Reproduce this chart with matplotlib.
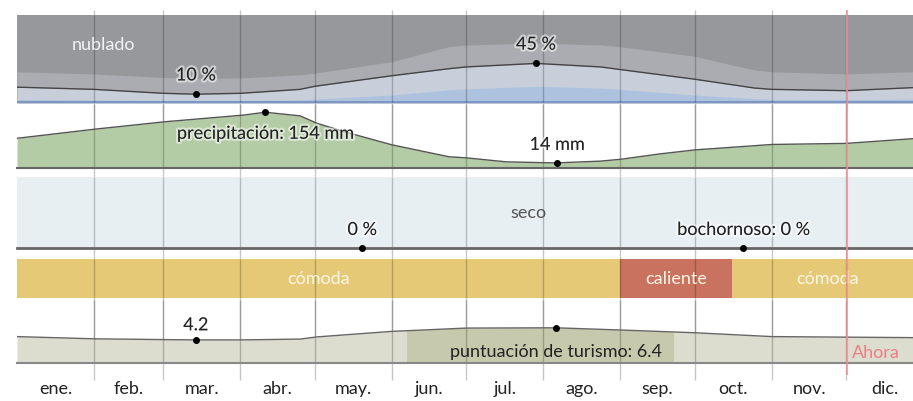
import numpy as np
import matplotlib
matplotlib.use('Agg')
import matplotlib.pyplot as plt
import matplotlib.patheffects as pe
from matplotlib.patches import Rectangle

plt.rcParams['font.family'] = ['Lato', 'DejaVu Sans']

# ---------------- data ----------------
months = ['ene.', 'feb.', 'mar.', 'abr.', 'may.', 'jun.', 'jul.', 'ago.', 'sep.', 'oct.', 'nov.', 'dic.']
month_starts = [0, 31, 59, 90, 120, 151, 181, 212, 243, 273, 304, 334, 365]

# cloud cover (% of time, cumulative from bottom)
cloud_days = [0, 31, 59, 72, 90, 114, 120, 151, 174, 181, 209, 235, 243, 273, 297, 304, 334, 365]
cloud_clear = [2, 2, 2, 2, 2, 2, 2, 2, 2, 2, 2, 2, 2, 2, 2, 2, 2, 2]
cloud_mostly_clear = [4, 3.5, 3, 3, 3, 3.5, 4.5, 9, 15, 16, 19, 17, 15.5, 9, 5, 4, 4, 4.5]
cloud_partly = [18, 15.5, 11, 10, 11, 15.5, 19, 31, 39, 41, 45, 41, 38, 27, 17, 15.5, 14, 18]
cloud_mostly_cloudy = [35.5, 33, 29, 28, 28.5, 32, 34, 47, 64, 66, 68, 66, 64, 53, 37.5, 35.5, 33, 36]

# precipitation (mm)
precip_days = [0, 31, 60, 91, 100, 114, 121, 134, 151, 174, 181, 197, 217, 235, 243, 259, 273, 304, 334, 365]
precip_mm = [82, 107, 128, 146, 154, 144, 123, 96, 64, 31, 28, 17, 14, 19, 24, 39, 50, 65, 68, 83]

# humidity (% muggy)
humid_days = [0, 365]
humid_pct = [0, 0]

# comfort bands
comfort_start = [0, 243, 288]
comfort_end = [243, 288, 365]
comfort_label = ['cómoda', 'caliente', 'cómoda']
comfort_color = ['#e6c977', '#c9725f', '#e6c977']

# tourism score
tour_days = [0, 31, 60, 72, 91, 114, 121, 151, 181, 217, 243, 273, 304, 334, 365]
tour_score = [4.8, 4.4, 4.25, 4.2, 4.2, 4.35, 4.75, 5.75, 6.35, 6.4, 6.0, 5.5, 4.8, 4.7, 4.6]
best_start, best_end = 157, 264

# annotations
cloud_min = (72, 10, '10 %')
cloud_max = (209, 45, '45 %')
precip_max = (100, 154, 'precipitación: 154 mm')
precip_min = (217.5, 14, '14 mm')
humid_min = (139, 0, '0 %')
humid_max = (292.5, 0, 'bochornoso: 0 %')
tour_min = (72, 4.2, '4.2')
tour_max = (217, 6.4, 'puntuación de turismo: 6.4')
now_day = 334.1

# ---------------- layout ----------------
W, H = 913, 401
X0 = 17
PXD = 2.483
XMAX = (W - X0) / PXD

fig = plt.figure(figsize=(W / 100, H / 100), dpi=100)
fig.patch.set_facecolor('white')


def add_ax(top, bottom, z=0):
    ax = fig.add_axes([X0 / W, 1 - bottom / H, (W - X0) / W, (bottom - top) / H], zorder=z)
    ax.set_xlim(0, XMAX)
    ax.axis('off')
    return ax


GRID = (0, 0, 0, 0.22)
halo = [pe.withStroke(linewidth=3, foreground=(1, 1, 1, 0.55))]
FS = 13


def grid(ax):
    ax.vlines(month_starts[1:-1], 0, 1, transform=ax.get_xaxis_transform(), color=GRID, lw=1, zorder=3)


# background axes in pixel coordinates for gridlines and month labels
bg = fig.add_axes([X0 / W, 0, (W - X0) / W, 1], zorder=-1)
bg.set_xlim(0, XMAX)
bg.set_ylim(H, 0)
bg.axis('off')
bg.vlines(month_starts[1:-1], 10, 380, color=GRID, lw=1)
for i, m in enumerate(months):
    bg.text((month_starts[i] + month_starts[i + 1]) / 2, 389, m, ha='center', va='center',
            fontsize=FS, color='#222')

# ---- cloud panel ----
ax = add_ax(15, 103)
ax.set_ylim(0, 100)
ax.fill_between(cloud_days, 0, 100, color='#96989c', lw=0)
ax.fill_between(cloud_days, 0, cloud_mostly_cloudy, color='#aaacb1', lw=0)
ax.fill_between(cloud_days, 0, cloud_partly, color='#c8cfdb', lw=0)
ax.fill_between(cloud_days, 0, cloud_mostly_clear, color='#adc2de', lw=0)
ax.fill_between(cloud_days, 0, cloud_clear, color='#7f97c0', lw=0)
ax.plot(cloud_days, cloud_partly, color='#444', lw=1, zorder=4)
grid(ax)
ax.text(35, 66, 'nublado', ha='center', va='center', fontsize=FS, color='#f2f2f2', zorder=5)
for d, v, s in [cloud_min, cloud_max]:
    ax.plot(d, v, 'o', color='black', ms=4, zorder=5)
    ax.annotate(s, (d, v), xytext=(0, 13.5), textcoords='offset points', ha='center', va='center',
                fontsize=FS, color='#222', path_effects=halo, zorder=6)

# ---- precipitation panel ----
ax = add_ax(104, 168)
ax.set_ylim(0, 64 / 0.362)
ax.fill_between(precip_days, 0, precip_mm, color='#b4cca6', lw=0)
ax.plot(precip_days, precip_mm, color='#555', lw=1, zorder=4)
ax.axhline(0, color='#666', lw=1.5, clip_on=False, zorder=4)
grid(ax)
d, v, s = precip_max
ax.plot(d, v, 'o', color='black', ms=4, zorder=5, clip_on=False)
ax.annotate(s, (d, v), xytext=(0, -15.5), textcoords='offset points', ha='center', va='center',
            fontsize=FS, color='#222', path_effects=halo, zorder=6)
d, v, s = precip_min
ax.plot(d, v, 'o', color='black', ms=4, zorder=5)
ax.annotate(s, (d, v), xytext=(0, 13), textcoords='offset points', ha='center', va='center',
            fontsize=FS, color='#222', path_effects=halo, zorder=6)

# ---- humidity panel ----
ax = add_ax(177, 248)
ax.set_ylim(0, 100)
ax.add_patch(Rectangle((0, 0), 1, 1, transform=ax.transAxes, color='#e8eff3', lw=0, zorder=0))
ax.plot(humid_days, humid_pct, color='#666', lw=2, clip_on=False, zorder=4)
grid(ax)
ax.text(205.8, 49, 'seco', ha='center', va='center', fontsize=FS, color='#555', zorder=5)
for d, v, s in [humid_min, humid_max]:
    ax.plot(d, v, 'o', color='black', ms=4, zorder=5, clip_on=False)
    ax.annotate(s, (d, v), xytext=(0, 13), textcoords='offset points', ha='center', va='center',
                fontsize=FS, color='#222', path_effects=halo, zorder=6)

# ---- comfort panel ----
ax = add_ax(259, 298)
ax.set_ylim(0, 1)
for a, b, lab, c in zip(comfort_start, comfort_end, comfort_label, comfort_color):
    ax.barh(0.5, b - a, left=a, height=1, color=c, lw=0, zorder=1)
    ax.text((a + b) / 2, 0.5, lab, ha='center', va='center', fontsize=FS, color='#fdf6e6', zorder=5)
grid(ax)

# ---- tourism panel ----
ax = add_ax(300, 363)
ax.set_ylim(0, 63 / 5.5)
ax.fill_between(tour_days, 0, tour_score, color='#dcdccf', lw=0)
dark = ax.fill_between(tour_days, 0, tour_score, color='#c6c9ab', lw=0)
dark.set_clip_path(Rectangle((best_start, 0), best_end - best_start, 20, transform=ax.transData))
ax.plot(tour_days, tour_score, color='#666', lw=1, zorder=4)
ax.axhline(0, color='#888', lw=1.5, clip_on=False, zorder=4)
grid(ax)
d, v, s = tour_min
ax.plot(d, v, 'o', color='black', ms=4, zorder=5)
ax.annotate(s, (d, v), xytext=(0, 10.5), textcoords='offset points', ha='center', va='center',
            fontsize=FS, color='#222', path_effects=halo, zorder=6)
d, v, s = tour_max
ax.plot(d, v, 'o', color='black', ms=4, zorder=5)
ax.annotate(s, (d, v), xytext=(0, -17.5), textcoords='offset points', ha='center', va='center',
            fontsize=FS, color='#222', zorder=6)

# ---- "now" line ----
top = fig.add_axes([X0 / W, 0, (W - X0) / W, 1], zorder=10)
top.set_xlim(0, XMAX)
top.set_ylim(H, 0)
top.axis('off')
top.vlines([now_day], 10, 375, color='#ef8f95', lw=1.5, alpha=0.8)
top.text(now_day + 2, 353, 'Ahora', ha='left', va='center', fontsize=FS, color='#ec7f86')

fig.savefig('out.png', dpi=100)
